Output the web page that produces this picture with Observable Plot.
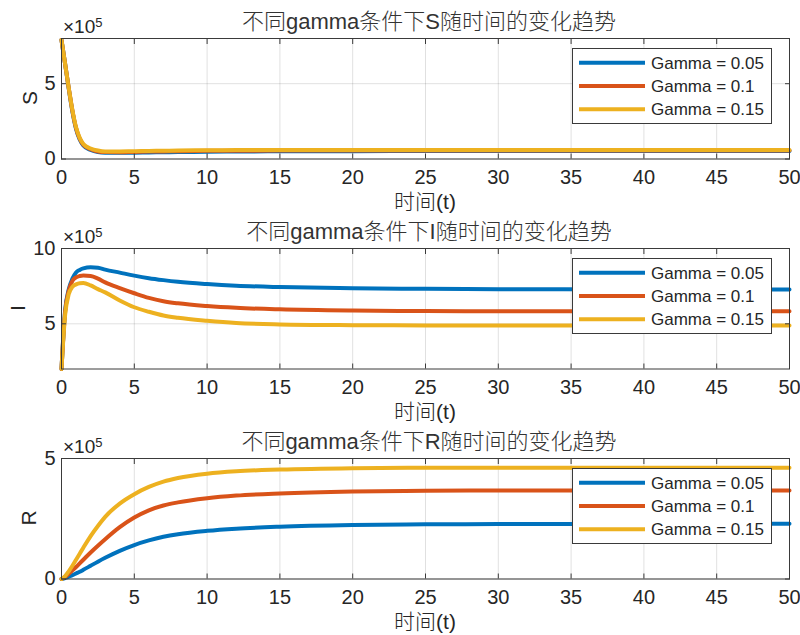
<!DOCTYPE html>
<html>
<head>
<meta charset="utf-8">
<script src="https://cdn.jsdelivr.net/npm/d3@7"></script>
<script src="https://cdn.jsdelivr.net/npm/@observablehq/plot@0.6"></script>
<style>
  html, body { margin: 0; padding: 0; background: #fff; }
  #wrap { position: relative; width: 800px; height: 635px; overflow: hidden; font-family: "Liberation Sans", Arial, "Noto Sans CJK SC", sans-serif; }
  .panel { position: absolute; left: 0; width: 800px; }
  #overlay { position: absolute; left: 0; top: 0; pointer-events: none; }
</style>
</head>
<body>
<div id="wrap"></div>
<script>
// ---- data (values in units of 10^5) ----
const t = [0, 0.25, 0.5, 0.75, 1, 1.25, 1.5, 2, 2.5, 3, 4, 5, 6, 7, 8, 10, 12, 15, 20, 25, 30, 40, 50];

const seriesNames = ["Gamma = 0.05", "Gamma = 0.1", "Gamma = 0.15"];
const seriesColors = ["#0072BD", "#D95319", "#EDB120"];

const S_g005 = [7.9, 6.3, 4.65, 3.15, 2.0, 1.3, 0.9, 0.6, 0.46, 0.42, 0.41, 0.42, 0.43, 0.45, 0.46, 0.48, 0.5, 0.51, 0.52, 0.53, 0.53, 0.53, 0.53];
const S_g010 = [7.9, 6.3, 4.7, 3.2, 2.05, 1.35, 0.95, 0.65, 0.5, 0.46, 0.45, 0.47, 0.49, 0.5, 0.52, 0.54, 0.55, 0.56, 0.57, 0.57, 0.57, 0.57, 0.57];
const S_g015 = [7.9, 6.3, 4.7, 3.25, 2.1, 1.4, 1.0, 0.7, 0.56, 0.5, 0.5, 0.52, 0.53, 0.55, 0.56, 0.58, 0.59, 0.6, 0.6, 0.6, 0.6, 0.6, 0.6];

const I_g005 = [2.0, 5.9, 7.3, 8.0, 8.41, 8.58, 8.68, 8.75, 8.72, 8.6, 8.4, 8.2, 8.03, 7.9, 7.79, 7.64, 7.53, 7.44, 7.36, 7.32, 7.3, 7.28, 7.27];
const I_g010 = [2.0, 5.8, 7.2, 7.85, 8.08, 8.17, 8.2, 8.17, 8.0, 7.75, 7.37, 7.03, 6.72, 6.5, 6.36, 6.18, 6.06, 5.96, 5.88, 5.85, 5.84, 5.84, 5.84];
const I_g015 = [2.0, 5.6, 6.98, 7.45, 7.62, 7.7, 7.71, 7.55, 7.3, 7.09, 6.55, 6.1, 5.8, 5.55, 5.4, 5.2, 5.05, 4.96, 4.91, 4.89, 4.88, 4.88, 4.88];

const R_g005 = [0, 0.04, 0.1, 0.16, 0.23, 0.3, 0.38, 0.55, 0.72, 0.88, 1.17, 1.41, 1.6, 1.75, 1.86, 2.0, 2.09, 2.17, 2.24, 2.27, 2.28, 2.29, 2.29];
const R_g010 = [0, 0.09, 0.22, 0.36, 0.5, 0.65, 0.8, 1.1, 1.38, 1.65, 2.15, 2.55, 2.85, 3.05, 3.18, 3.35, 3.46, 3.55, 3.63, 3.66, 3.67, 3.67, 3.67];
const R_g015 = [0, 0.12, 0.32, 0.55, 0.8, 1.05, 1.3, 1.78, 2.2, 2.58, 3.13, 3.52, 3.82, 4.04, 4.19, 4.37, 4.47, 4.54, 4.6, 4.62, 4.62, 4.62, 4.62];

const xTicks = [0, 5, 10, 15, 20, 25, 30, 35, 40, 45, 50];
const panelTitles = ["不同gamma条件下S随时间的变化趋势", "不同gamma条件下I随时间的变化趋势", "不同gamma条件下R随时间的变化趋势"];
const yLabels = ["S", "I", "R"];
const xLabel = "时间(t)";
const yDomains = [[0, 8], [2, 10], [0, 5]];
const yTicksList = [[0, 5], [5, 10], [0, 5]];
const seriesByPanel = [[S_g005, S_g010, S_g015], [I_g005, I_g010, I_g015], [R_g005, R_g010, R_g015]];

// ---- layout ----
const panelTops = [0, 210, 420];
const panelHeights = [210, 210, 215];
const mL = 61, mR = 11, mT = 38;
const font = "'Liberation Sans', Arial, 'Noto Sans CJK SC', sans-serif";
const ink = "#262626";

const wrap = document.getElementById("wrap");

function rows(list) {
  const out = [];
  list.forEach((vals, si) => vals.forEach((v, i) => out.push({t: t[i], v, s: seriesNames[si]})));
  return out;
}

panelTops.forEach((top, p) => {
  const h = panelHeights[p];
  const yTicks = yTicksList[p];
  const chart = Plot.plot({
    width: 800,
    height: h,
    marginLeft: mL,
    marginRight: mR,
    marginTop: mT,
    marginBottom: h - mT - 120.5,
    style: {fontFamily: font, fontSize: "20px", color: ink, background: "transparent"},
    x: {domain: [0, 50], label: null},
    y: {domain: yDomains[p], label: null},
    color: {domain: seriesNames, range: seriesColors},
    marks: [
      Plot.gridX(xTicks, {stroke: "#000", strokeOpacity: 0.12}),
      Plot.gridY(yTicks, {stroke: "#000", strokeOpacity: 0.12}),
      Plot.line(rows(seriesByPanel[p]), {x: "t", y: "v", z: "s", stroke: "s", strokeWidth: 4, curve: "monotone-x"}),
      Plot.frame({stroke: "#3a3a3a", strokeWidth: 1}),
      Plot.axisX(xTicks, {anchor: "bottom", tickSize: 0, tickPadding: 11, label: null, fontSize: 20, fill: ink}),
      Plot.axisX(xTicks, {anchor: "bottom", tickSize: -5, tickFormat: () => "", label: null, stroke: "#3a3a3a"}),
      Plot.axisX(xTicks, {anchor: "top", tickSize: -5, tickFormat: () => "", label: null, stroke: "#3a3a3a"}),
      Plot.axisY(yTicks, {anchor: "left", tickSize: 0, tickPadding: 6, label: null, fontSize: 20, fill: ink}),
      Plot.axisY(yTicks, {anchor: "left", tickSize: -5, tickFormat: () => "", label: null, stroke: "#3a3a3a"}),
      Plot.axisY(yTicks, {anchor: "right", tickSize: -5, tickFormat: () => "", label: null, stroke: "#3a3a3a"})
    ]
  });
  const div = document.createElement("div");
  div.className = "panel";
  div.style.top = top + "px";
  div.style.height = h + "px";
  div.appendChild(chart);
  wrap.appendChild(div);
});

// ---- overlay: titles, labels, exponent, legends ----
const svg = d3.select(wrap).append("svg")
  .attr("id", "overlay")
  .attr("width", 800).attr("height", 635)
  .style("font-family", font);

const yLabelX = [36.5, 25, 35.5];

panelTops.forEach((top, p) => {
  const g = svg.append("g").attr("transform", `translate(0,${top})`);
  // title
  g.append("text").attr("x", 429).attr("y", 29).attr("text-anchor", "middle")
    .attr("font-size", 22).attr("font-weight", 300).attr("fill", "#333").text(panelTitles[p]);
  // exponent
  const ex = g.append("text").attr("x", 63).attr("y", 33).attr("font-size", 19).attr("fill", ink);
  ex.append("tspan").text("×10");
  ex.append("tspan").attr("dy", -6).attr("font-size", 13).text("5");
  // y label
  g.append("text").attr("transform", `translate(${yLabelX[p]},98) rotate(-90)`)
    .attr("text-anchor", "middle").attr("font-size", 21).attr("fill", ink).text(yLabels[p]);
  // x label
  g.append("text").attr("x", 425).attr("y", 209).attr("text-anchor", "middle")
    .attr("font-size", 21).attr("font-weight", 300).attr("fill", ink).text(xLabel);
  // legend
  const lg = g.append("g");
  lg.append("rect").attr("x", 572.5).attr("y", 48.5).attr("width", 199).attr("height", 75)
    .attr("fill", "#fff").attr("stroke", "#3a3a3a").attr("stroke-width", 1);
  seriesNames.forEach((name, i) => {
    const cy = 62.7 + i * 23.3;
    lg.append("line").attr("x1", 579).attr("x2", 645).attr("y1", cy).attr("y2", cy)
      .attr("stroke", seriesColors[i]).attr("stroke-width", 4);
    lg.append("text").attr("x", 651).attr("y", cy + 6).attr("font-size", 17).attr("fill", ink).text(name);
  });
});
</script>
</body>
</html>
